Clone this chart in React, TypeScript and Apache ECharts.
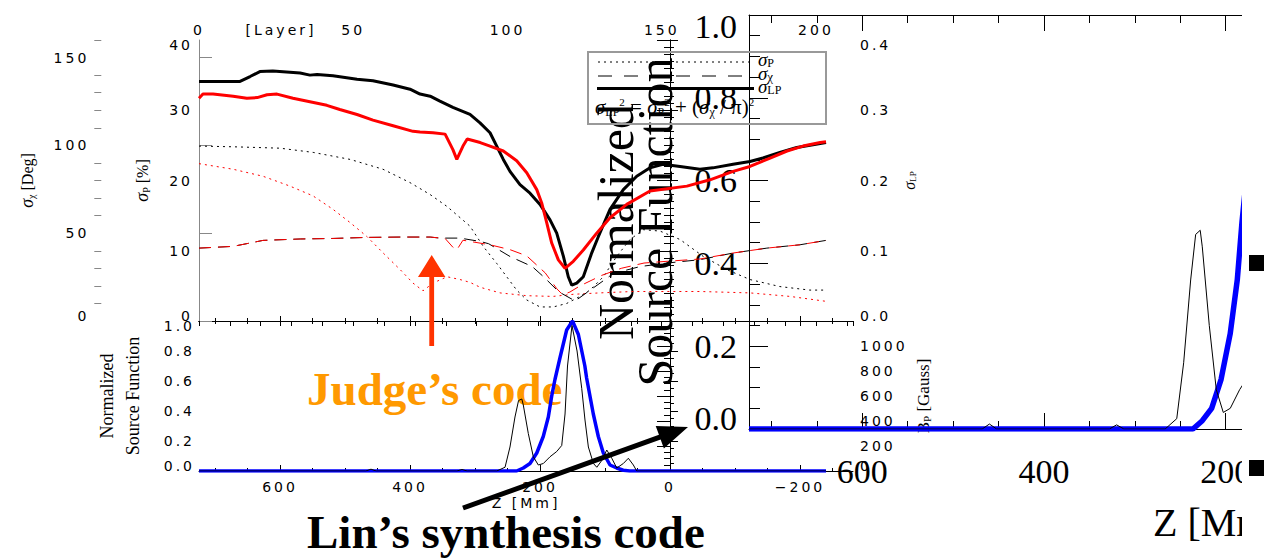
import React, { useEffect, useRef } from 'react';
import * as echarts from 'echarts';

type Pt = [number, number];

// ---- Upper panel: height Z [Mm] vs. errors ----
// sigma_P [%] (dotted)
const sigmaPBlack: Pt[] = [
  [724.6, 24.9], [672, 24.8], [600, 24.6], [549, 24.0], [492, 23.0], [441.5, 21.6], [400, 19.7],
  [369, 18.0], [343, 16.3], [307.7, 13.5], [287.2, 10.6], [266.6, 8.2], [251.2, 6.3], [235.9, 4.4],
  [220.5, 3.0], [200, 2.0], [179.5, 2.0], [158.9, 2.5], [138.5, 3.5], [123.1, 4.4], [102.6, 6.3],
  [82, 9.2], [61.5, 11.6], [41, 13.0], [15.4, 12.8], [-15.4, 11.6], [-51, 9.2], [-87.7, 7.3],
  [-123, 5.9], [-169, 4.9], [-215, 4.4], [-240, 4.4],
];
const sigmaPRed: Pt[] = [
  [724.6, 22.4], [672, 21.6], [626, 20.6], [584.6, 19.2], [549, 17.8], [518.5, 15.9], [492, 14.0],
  [466, 12.0], [441.5, 9.7], [415, 7.3], [395.4, 5.4], [380, 4.3], [364.6, 5.4], [343, 6.3],
  [323, 5.9], [307.7, 5.5], [292, 4.8], [261.5, 4.0], [220, 3.6], [180, 3.5], [149, 3.8],
  [108, 4.0], [57, 4.2], [-46, 4.2], [-123, 4.0], [-184.6, 3.5], [-240, 2.8],
];
// sigma_chi [Deg] (dashed)
const sigmaChiBlack: Pt[] = [
  [724.6, 41.5], [672, 42.5], [626, 45.9], [569, 46.7], [518.5, 47.0], [466, 47.6], [415, 47.8],
  [369, 47.8], [354, 47.2], [323, 47.2], [292, 45.3], [279, 44.0], [246, 36.7], [212, 31.0],
  [194, 25.0], [171, 16.6], [146, 11.4], [125, 17.0], [98.5, 24.0], [87.7, 27.0], [46, 31.0],
  [4.6, 33.0], [-46, 34.9], [-97, 38.7], [-149, 41.5], [-200, 43.4], [-240, 45.9],
];
const sigmaChiRed: Pt[] = [
  [724.6, 41.5], [672, 42.5], [626, 45.9], [569, 46.7], [518.5, 47.0], [466, 47.6], [415, 47.8],
  [369, 47.8], [346, 47.0], [334, 42.0], [328, 40.5], [318.5, 46.0], [307.7, 45.3], [276.9, 43.4],
  [246, 40.6], [220.5, 37.1], [192, 27.4], [174, 18.3], [165, 14.9], [154, 16.5], [138.5, 20.0],
  [105, 26.0], [75, 30.0], [40, 33.0], [4.6, 34.0], [-46, 35.3], [-97, 38.7], [-149, 41.5],
  [-200, 43.4], [-240, 45.9],
];
// sigma_LP (thick solid)
const sigmaLpBlack: Pt[] = [
  [724.6, 0.341], [661.5, 0.341], [646, 0.348], [631, 0.355], [611, 0.356], [569, 0.353],
  [554, 0.350], [543, 0.351], [518.5, 0.349], [481.5, 0.344], [457, 0.342], [426, 0.336],
  [400, 0.330], [384.6, 0.323], [369, 0.320], [354, 0.313], [334, 0.304], [307.7, 0.294],
  [292.3, 0.282], [276.9, 0.268], [266.6, 0.249], [256.5, 0.230], [246.2, 0.213], [230.8, 0.194],
  [215.4, 0.182], [200, 0.166], [184.6, 0.144], [174.3, 0.125], [164, 0.092], [156.5, 0.063],
  [151.2, 0.051], [143.5, 0.054], [133.4, 0.063], [120.4, 0.097], [110.3, 0.120], [92.3, 0.159],
  [71.8, 0.187], [51.2, 0.206], [30.8, 0.218], [11, 0.223], [-15.4, 0.220], [-46, 0.216],
  [-66, 0.218], [-97, 0.223], [-123, 0.227], [-143, 0.232], [-169, 0.240], [-195, 0.247],
  [-220, 0.251], [-240, 0.254],
];
const sigmaLpRed: Pt[] = [
  [724.6, 0.317], [718.5, 0.323], [703, 0.323], [672, 0.320], [651, 0.317], [635, 0.318],
  [620, 0.322], [604.6, 0.323], [580, 0.317], [554, 0.312], [528, 0.307], [508, 0.301],
  [481.5, 0.294], [457, 0.286], [426, 0.278], [395.4, 0.270], [384.6, 0.269], [364.6, 0.268],
  [346, 0.266], [334, 0.244], [328, 0.230], [318.5, 0.249], [312, 0.259], [292, 0.254],
  [276.9, 0.249], [256.5, 0.242], [235.9, 0.228], [220.4, 0.211], [205, 0.187], [197.4, 0.168],
  [189.7, 0.140], [182, 0.111], [171.8, 0.087], [161.5, 0.075], [148.8, 0.085], [133.4, 0.101],
  [112.8, 0.125], [92.3, 0.147], [66.6, 0.166], [30.8, 0.185], [-26, 0.192], [-61.5, 0.201],
  [-97, 0.213], [-123, 0.220], [-154, 0.232], [-180, 0.242], [-204.6, 0.249], [-231, 0.254],
  [-240, 0.255],
];

// ---- Lower panel: normalized source functions ----
const sourceFnBlue: Pt[] = [
  [724.6, 0], [236, 0], [225.7, 0.02], [215.4, 0.05], [205, 0.12], [195, 0.23], [187.2, 0.36],
  [182, 0.5], [177, 0.61], [169, 0.76], [159, 0.94], [150, 1.0], [141, 0.91], [131, 0.7],
  [128.3, 0.62], [118, 0.38], [110.3, 0.23], [102.6, 0.12], [92.3, 0.04], [82, 0.02],
  [72, 0.005], [62, 0], [-240, 0],
];
const sourceFnBlack: Pt[] = [
  [724.6, 0], [468, 0], [460, 0.012], [452, 0], [328, 0], [320, 0.01], [312, 0], [266.6, 0],
  [253.8, 0.025], [246.2, 0.16], [238.5, 0.36], [233, 0.47], [228, 0.48], [225.7, 0.44],
  [218, 0.25], [210.3, 0.095], [202.6, 0.04], [194.9, 0.05], [184.6, 0.095], [174.3, 0.13],
  [166.6, 0.17], [161.5, 0.38], [157.7, 0.7], [150.8, 0.97], [143, 0.8], [135.8, 0.55],
  [130.8, 0.34], [125.6, 0.16], [117.8, 0.05], [112.6, 0.025], [105, 0.07], [97.3, 0.14],
  [89.6, 0.085], [81.9, 0.02], [71.8, 0.05], [64.1, 0.085], [56.4, 0.04], [51.2, 0], [-240, 0],
];

// ---- Ticks and labels ----
const zMajorTicks = [600, 400, 200, 0, -200];
const zMinorTicks = [700, 650, 550, 500, 450, 350, 300, 250, 150, 100, 50, -50, -100, -150, -250];
const zoomMajorTicks = [600, 400, 200];
const zoomMinorTicks = [700, 650, 550, 500, 450, 350, 300, 250];
const layerLabels = [0, 50, 100, 150, 200];
const chiLabels = [0, 50, 100, 150];
const chiMinorTicks = [10, 20, 30, 40, 60, 70, 80, 90, 110, 120, 130, 140, 160];
const gaussLabels = [0, 200, 400, 600, 800, 1000];

const SERIF = 'Liberation Serif';
const tickText = { fontFamily: 'DejaVu Sans', fontSize: 14, lineHeight: 10, color: '#000' };
const bigText = { fontFamily: SERIF, fontSize: 34, lineHeight: 22, color: '#000' };

const zFormat = (v: number) => (v < 0 ? '\u2212' + Math.abs(v) : String(v));
const oneDecimal = (v: number) => v.toFixed(1);
const plain = (v: number) => String(v);

const line = (color = '#000') => ({ show: true, lineStyle: { color, width: 1 } });

function nameStyle(fs: number) {
  return {
    fontFamily: SERIF,
    fontSize: fs,
    color: '#000',
    rich: {
      s: { fontFamily: SERIF, fontStyle: 'italic', fontSize: fs + 2, color: '#000' },
      b: { fontFamily: SERIF, fontSize: Math.round(fs * 0.65), color: '#000', verticalAlign: 'bottom' },
    },
  };
}

function zAxis(gridIndex: number, position: string, min: number, ticks: number[], length: number, extra: any = {}) {
  return {
    type: 'value',
    gridIndex,
    position,
    inverse: true,
    min,
    max: 724.6,
    axisLine: line(),
    axisTick: { show: true, inside: true, length, customValues: ticks, lineStyle: { color: '#000' } },
    axisLabel: { show: false },
    splitLine: { show: false },
    ...extra,
  };
}

function series(data: Pt[], xAxisIndex: number, yAxisIndex: number, color: string, width: number, type: any, z = 2) {
  return {
    type: 'line',
    data,
    xAxisIndex,
    yAxisIndex,
    z,
    symbol: 'none',
    showSymbol: false,
    silent: true,
    lineStyle: { color, width, type },
    emphasis: { disabled: true },
  };
}

function buildOption(): any {
  return {
    animation: false,
    backgroundColor: '#fff',
    grid: [
      { left: 199, top: 40, width: 654, height: 281, outerBoundsMode: 'none' },
      { left: 199, top: 321, width: 654, height: 150, outerBoundsMode: 'none' },
      { left: 749, top: 15, width: 493, height: 414, outerBoundsMode: 'none' },
    ],
    xAxis: [
      zAxis(0, 'bottom', -281.5, zMajorTicks, 5),
      zAxis(0, 'bottom', -281.5, zMinorTicks, 3, { axisLine: { show: false } }),
      {
        type: 'value', gridIndex: 0, position: 'top', min: 0, max: 212, interval: 10,
        axisLine: line(),
        axisTick: { show: true, inside: true, length: 5, lineStyle: { color: '#000' } },
        axisLabel: { show: true, customValues: layerLabels, margin: 5, ...tickText },
        splitLine: { show: false },
      },
      zAxis(1, 'bottom', -281.5, zMajorTicks, 6, {
        axisLabel: { show: true, customValues: zMajorTicks, formatter: zFormat, margin: 11, ...tickText },
        name: 'Z [Mm]', nameLocation: 'middle', nameGap: 27, nameMoveOverlap: false,
        nameTextStyle: { ...tickText },
      }),
      zAxis(1, 'bottom', -281.5, zMinorTicks, 3, { axisLine: { show: false } }),
      zAxis(1, 'top', -281.5, zMajorTicks, 5),
      zAxis(1, 'top', -281.5, zMinorTicks, 3, { axisLine: { show: false } }),
      zAxis(2, 'bottom', 182, zoomMajorTicks, 16, {
        axisLabel: { show: true, customValues: zoomMajorTicks, margin: 31, ...bigText },
      }),
      zAxis(2, 'bottom', 182, zoomMinorTicks, 8, { axisLine: { show: false } }),
      zAxis(2, 'top', 182, zoomMajorTicks, 16),
      zAxis(2, 'top', 182, zoomMinorTicks, 8, { axisLine: { show: false } }),
    ],
    yAxis: [
      {
        type: 'value', gridIndex: 0, position: 'left', min: 0, max: 40, interval: 10,
        axisLine: line(),
        axisTick: { show: true, inside: true, length: 8, lineStyle: { color: '#000' } },
        minorTick: { show: true, splitNumber: 10, length: 4, lineStyle: { color: '#000' } },
        axisLabel: { ...tickText, margin: 6, verticalAlignMinLabel: 'bottom', verticalAlignMaxLabel: 'top' },
        splitLine: { show: false },
        name: '{s|σ}{b|P} [%]', nameLocation: 'middle', nameGap: 48, nameMoveOverlap: false,
        nameTextStyle: nameStyle(16),
      },
      {
        type: 'value', gridIndex: 0, position: 'right', min: 0, max: 0.4, interval: 0.1,
        axisLine: line(),
        axisTick: { show: true, inside: true, length: 13, lineStyle: { color: '#000' } },
        minorTick: { show: true, splitNumber: 10, length: 6, lineStyle: { color: '#000' } },
        axisLabel: { ...tickText, margin: 7, formatter: oneDecimal, verticalAlignMinLabel: 'bottom', verticalAlignMaxLabel: 'top' },
        splitLine: { show: false },
        name: '{s|σ}{b|LP}', nameLocation: 'middle', nameGap: 48, nameMoveOverlap: false,
        nameTextStyle: nameStyle(14),
      },
      {
        type: 'value', gridIndex: 0, position: 'left', offset: 104.7, min: 0, max: 160,
        axisLine: line('#888'),
        axisTick: { show: true, inside: true, length: 13, customValues: chiLabels, lineStyle: { color: '#888' } },
        axisLabel: { ...tickText, margin: 5, customValues: chiLabels, verticalAlignMinLabel: 'bottom' },
        splitLine: { show: false },
        name: '{s|σ}{b|χ} [Deg]', nameLocation: 'middle', nameGap: 58, nameMoveOverlap: false,
        nameTextStyle: nameStyle(16),
      },
      {
        type: 'value', gridIndex: 0, position: 'left', offset: 104.7, min: 0, max: 160,
        axisLine: { show: false },
        axisTick: { show: true, inside: true, length: 7, customValues: chiMinorTicks, lineStyle: { color: '#888' } },
        axisLabel: { show: false },
        splitLine: { show: false },
      },
      {
        type: 'value', gridIndex: 1, position: 'left', min: 0, max: 1, interval: 0.2,
        axisLine: line(),
        axisTick: { show: true, inside: true, length: 8, lineStyle: { color: '#000' } },
        minorTick: { show: true, splitNumber: 4, length: 4, lineStyle: { color: '#000' } },
        axisLabel: { ...tickText, margin: 4, formatter: oneDecimal, verticalAlignMinLabel: 'bottom', verticalAlignMaxLabel: 'top' },
        splitLine: { show: false },
        name: 'Normalized\nSource Function', nameLocation: 'middle', nameGap: 53, nameMoveOverlap: false,
        nameTextStyle: { fontFamily: SERIF, fontSize: 18, lineHeight: 26, color: '#000' },
      },
      {
        type: 'value', gridIndex: 1, position: 'right', min: 0, max: 1200, interval: 200,
        axisLine: line(),
        axisTick: { show: true, inside: true, length: 13, lineStyle: { color: '#000' } },
        minorTick: { show: true, splitNumber: 4, length: 6, lineStyle: { color: '#000' } },
        axisLabel: { ...tickText, margin: 7, customValues: gaussLabels, formatter: plain, verticalAlignMinLabel: 'bottom' },
        splitLine: { show: false },
        name: '{s|B}{b|P} [Gauss]', nameLocation: 'middle', nameGap: 62, nameMoveOverlap: false,
        nameTextStyle: {
          ...nameStyle(17),
          rich: {
            s: { fontFamily: SERIF, fontSize: 17, color: '#000' },
            b: { fontFamily: SERIF, fontSize: 11, color: '#000', verticalAlign: 'bottom' },
          },
        },
      },
      {
        type: 'value', gridIndex: 2, position: 'left', min: 0, max: 1, interval: 0.2,
        axisLine: line(),
        axisTick: { show: true, inside: true, length: 19, lineStyle: { color: '#000' } },
        minorTick: { show: true, splitNumber: 4, length: 11, lineStyle: { color: '#000' } },
        axisLabel: { ...bigText, margin: 12, formatter: oneDecimal, verticalAlignMinLabel: 'bottom', verticalAlignMaxLabel: 'top' },
        splitLine: { show: false },
        name: 'Normalized\nSource Function', nameLocation: 'middle', nameGap: 75, nameMoveOverlap: false,
        nameTextStyle: { fontFamily: SERIF, fontSize: 50, lineHeight: 39, color: '#000' },
      },
    ],
    series: [
      series(sigmaPBlack, 0, 0, '#000', 1, [2, 4]),
      series(sigmaPRed, 0, 0, '#ff0000', 1, [2, 4]),
      series(sigmaChiBlack, 0, 2, '#000', 1, [12, 7]),
      series(sigmaChiRed, 0, 2, '#ff0000', 1, [12, 7]),
      series(sigmaLpBlack, 0, 1, '#000', 3, 'solid', 3),
      series(sigmaLpRed, 0, 1, '#ff0000', 3, 'solid', 4),
      series(sourceFnBlue, 3, 4, '#0000ff', 3.5, 'solid', 3),
      series(sourceFnBlack, 3, 4, '#000', 1, 'solid', 4),
      series(sourceFnBlue, 7, 6, '#0000ff', 5.5, 'solid', 3),
      series(sourceFnBlack, 7, 6, '#000', 1, 'solid', 4),
    ],
    graphic: [
      {
        type: 'text', x: 281, y: 30, z: 5,
        style: { text: '[Layer]', fontFamily: 'DejaVu Sans', fontSize: 14, fill: '#000', align: 'center', verticalAlign: 'middle' },
      },
      // legend box
      { type: 'rect', z: 5, shape: { x: 588, y: 52, width: 238, height: 72 }, style: { fill: 'none', stroke: '#999', lineWidth: 2 } },
      { type: 'line', z: 5, shape: { x1: 598, y1: 62, x2: 750, y2: 62 }, style: { stroke: '#000', lineWidth: 1, lineDash: [2, 4] } },
      { type: 'line', z: 5, shape: { x1: 598, y1: 76, x2: 748, y2: 76 }, style: { stroke: '#000', lineWidth: 1, lineDash: [14, 12] } },
      { type: 'line', z: 5, shape: { x1: 597, y1: 88.5, x2: 754, y2: 88.5 }, style: { stroke: '#000', lineWidth: 3 } },
      {
        type: 'text', x: 758, y: 59, z: 5,
        style: {
          text: '{s|σ}{b|P}', verticalAlign: 'middle',
          rich: { s: { fontFamily: SERIF, fontStyle: 'italic', fontSize: 19, fill: '#000' }, b: { fontFamily: SERIF, fontSize: 12, fill: '#000', verticalAlign: 'bottom' } },
        },
      },
      {
        type: 'text', x: 758, y: 73, z: 5,
        style: {
          text: '{s|σ}{b|χ}', verticalAlign: 'middle',
          rich: { s: { fontFamily: SERIF, fontStyle: 'italic', fontSize: 19, fill: '#000' }, b: { fontFamily: SERIF, fontSize: 13, fill: '#000', verticalAlign: 'bottom' } },
        },
      },
      {
        type: 'text', x: 758, y: 86, z: 5,
        style: {
          text: '{s|σ}{b|LP}', verticalAlign: 'middle',
          rich: { s: { fontFamily: SERIF, fontStyle: 'italic', fontSize: 19, fill: '#000' }, b: { fontFamily: SERIF, fontSize: 12, fill: '#000', verticalAlign: 'bottom' } },
        },
      },
      {
        type: 'text', x: 595, y: 107, z: 5,
        style: {
          text: '{s|σ}{b|LP}{p|2}{t| = }{s|σ}{b|P}{p|2}{t| + (}{s|σ}{b|χ}{t| / π)}{p|2}',
          verticalAlign: 'middle',
          rich: {
            s: { fontFamily: SERIF, fontStyle: 'italic', fontSize: 21, fill: '#000' },
            t: { fontFamily: SERIF, fontSize: 21, fill: '#000' },
            b: { fontFamily: SERIF, fontSize: 12, fill: '#000', verticalAlign: 'bottom' },
            p: { fontFamily: SERIF, fontSize: 11, fill: '#000', verticalAlign: 'top' },
          },
        },
      },
      // axis title of the enlarged panel
      {
        type: 'text', x: 1153, y: 522, z: 5,
        style: { text: 'Z [Mm]', fontFamily: SERIF, fontSize: 40, fill: '#000', align: 'left', verticalAlign: 'middle' },
      },
      // annotations
      {
        type: 'text', x: 307, y: 389, z: 1,
        style: { text: 'Judge\u2019s code', fontFamily: SERIF, fontWeight: 'bold', fontSize: 47, fill: '#ff9900', align: 'left', verticalAlign: 'middle' },
      },
      {
        type: 'text', x: 307, y: 532, z: 1,
        style: { text: 'Lin\u2019s synthesis code', fontFamily: SERIF, fontWeight: 'bold', fontSize: 47, fill: '#000', align: 'left', verticalAlign: 'middle' },
      },
      {
        type: 'polygon', z: 20,
        shape: { points: [[429.3, 346], [429.3, 277], [418, 277], [431.7, 255], [445.4, 277], [434.1, 277], [434.1, 346]] },
        style: { fill: '#ff3300' },
      },
      {
        type: 'polygon', z: 20,
        shape: {
          points: [[463.85, 510.35], [660.65, 439.55], [663.9, 448.5], [688, 427], [655.7, 425.9], [658.95, 434.85], [462.15, 505.65]],
        },
        style: { fill: '#000' },
      },
      // right margin
      { type: 'rect', z: 30, shape: { x: 1242, y: 0, width: 43, height: 560 }, style: { fill: '#fff' } },
      { type: 'rect', z: 31, shape: { x: 1249, y: 255, width: 15, height: 16 }, style: { fill: '#000' } },
      { type: 'rect', z: 31, shape: { x: 1249, y: 460, width: 15, height: 16 }, style: { fill: '#000' } },
    ],
  };
}

const css = `
.sigma-fig text[style*="DejaVu Sans"], .sigma-fig text[font-family*="DejaVu Sans"] { letter-spacing: 3px; }
`;

export default function App() {
  const ref = useRef<HTMLDivElement>(null);
  useEffect(() => {
    if (!ref.current) return;
    const chart = echarts.init(ref.current, undefined, { renderer: 'svg' });
    chart.setOption(buildOption());
    return () => chart.dispose();
  }, []);
  return (
    <>
      <style>{css}</style>
      <div
        ref={ref}
        className="sigma-fig"
        style={{ position: 'absolute', left: 0, top: 0, width: 1285, height: 560, background: '#fff' }}
      />
    </>
  );
}
